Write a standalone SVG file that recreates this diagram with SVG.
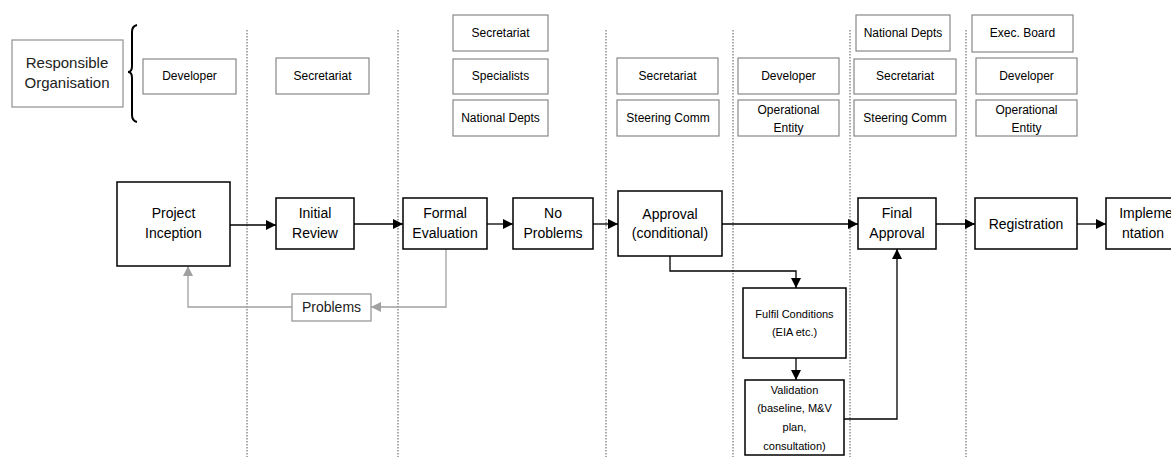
<svg xmlns="http://www.w3.org/2000/svg" width="1171" height="457" viewBox="0 0 1171 457">
<style>
text{font-family:"Liberation Sans",Arial,sans-serif;text-anchor:middle;fill:#000}
.sm{font-size:12px}
.md{font-size:14px}
.xs{font-size:11px}
.lg{font-size:15px;fill:#222}
.tb{fill:#fff;stroke:#888;stroke-width:1.2}
.gb{fill:#fff;stroke:#999;stroke-width:1.3}
.mb{fill:#fff;stroke:#000;stroke-width:1.5}
.dl{stroke:#555;stroke-width:1;stroke-dasharray:1.5 1.5;fill:none}
.cn{stroke:#000;stroke-width:1.3;fill:none}
.cg{stroke:#a0a0a0;stroke-width:1.3;fill:none}
</style>
<defs>
<marker id="ah" viewBox="0 0 10 10" refX="10" refY="5" markerWidth="10" markerHeight="10" markerUnits="userSpaceOnUse" orient="auto"><path d="M0,0L10,5L0,10z" fill="#000"/></marker>
<marker id="ag" viewBox="0 0 10 10" refX="10" refY="5" markerWidth="10" markerHeight="10" markerUnits="userSpaceOnUse" orient="auto"><path d="M0,0L10,5L0,10z" fill="#a0a0a0"/></marker>
</defs>
<rect width="1171" height="457" fill="#fff"/>
<g id="lanes">
<line class="dl" x1="247" y1="30" x2="247" y2="457"/>
<line class="dl" x1="398" y1="30" x2="398" y2="457"/>
<line class="dl" x1="606" y1="30" x2="606" y2="457"/>
<line class="dl" x1="733" y1="30" x2="733" y2="457"/>
<line class="dl" x1="850" y1="30" x2="850" y2="457"/>
<line class="dl" x1="966" y1="30" x2="966" y2="457"/>
</g>
<g id="responsible">
<rect class="gb" x="12" y="40" width="111" height="67"/>
<text class="lg" x="67" y="68">Responsible</text>
<text class="lg" x="67" y="88">Organisation</text>
</g>
<path id="brace" d="M137,25 Q132,26 132,32 L132,66 Q132,72 128,72 Q132,72 132,78 L132,115 Q132,121 137,122" fill="none" stroke="#000" stroke-width="2"/>
<g id="org-developer1"><rect class="tb" x="143" y="59" width="93" height="35"/><text class="sm" x="189.5" y="80">Developer</text></g>
<g id="org-secretariat1"><rect class="tb" x="276" y="58" width="93" height="36"/><text class="sm" x="322.5" y="80">Secretariat</text></g>
<g id="org-secretariat2"><rect class="tb" x="453" y="15" width="95" height="36"/><text class="sm" x="500.5" y="37">Secretariat</text></g>
<g id="org-specialists"><rect class="tb" x="453" y="59" width="95" height="35"/><text class="sm" x="500.5" y="80">Specialists</text></g>
<g id="org-natdepts1"><rect class="tb" x="453" y="100" width="95" height="36"/><text class="sm" x="500.5" y="122">National Depts</text></g>
<g id="org-secretariat3"><rect class="tb" x="617" y="58" width="101" height="36"/><text class="sm" x="667.5" y="80">Secretariat</text></g>
<g id="org-steering1"><rect class="tb" x="617" y="100" width="102" height="36"/><text class="sm" x="668" y="122">Steering Comm</text></g>
<g id="org-developer2"><rect class="tb" x="738" y="58" width="101" height="36"/><text class="sm" x="788.5" y="80">Developer</text></g>
<g id="org-operational1"><rect class="tb" x="738" y="100" width="101" height="36"/><text class="sm" x="788.5" y="114">Operational</text><text class="sm" x="788.5" y="132">Entity</text></g>
<g id="org-natdepts2"><rect class="tb" x="856" y="15" width="94" height="36"/><text class="sm" x="903" y="37">National Depts</text></g>
<g id="org-secretariat4"><rect class="tb" x="854" y="59" width="102" height="35"/><text class="sm" x="905" y="80">Secretariat</text></g>
<g id="org-steering2"><rect class="tb" x="854" y="100" width="102" height="36"/><text class="sm" x="905" y="122">Steering Comm</text></g>
<g id="org-execboard"><rect class="tb" x="972" y="15" width="101" height="37"/><text class="sm" x="1022.5" y="37">Exec. Board</text></g>
<g id="org-developer3"><rect class="tb" x="976" y="58" width="101" height="36"/><text class="sm" x="1026.5" y="80">Developer</text></g>
<g id="org-operational2"><rect class="tb" x="976" y="100" width="101" height="36"/><text class="sm" x="1026.5" y="114">Operational</text><text class="sm" x="1026.5" y="132">Entity</text></g>
<g id="connectors">
<line class="cn" x1="230" y1="225" x2="276" y2="225" marker-end="url(#ah)"/>
<line class="cn" x1="354" y1="224" x2="403" y2="224" marker-end="url(#ah)"/>
<line class="cn" x1="487" y1="224" x2="513" y2="224" marker-end="url(#ah)"/>
<line class="cn" x1="593" y1="224" x2="618" y2="224" marker-end="url(#ah)"/>
<line class="cn" x1="722" y1="224" x2="858" y2="224" marker-end="url(#ah)"/>
<line class="cn" x1="936" y1="224" x2="975" y2="224" marker-end="url(#ah)"/>
<line class="cn" x1="1077" y1="224" x2="1106" y2="224" marker-end="url(#ah)"/>
<polyline class="cn" points="670,256 670,271 796,271 796,288" marker-end="url(#ah)"/>
<line class="cn" x1="796" y1="358" x2="796" y2="380" marker-end="url(#ah)"/>
<polyline class="cn" points="844,419 897,419 897,249" marker-end="url(#ah)"/>
<polyline class="cg" points="446,249 446,307 371,307" marker-end="url(#ag)"/>
<polyline class="cg" points="292,307 188,307 188,266" marker-end="url(#ag)"/>
</g>
<g id="project-inception"><rect class="mb" x="117" y="182" width="113" height="84"/><text class="md" x="173.5" y="218">Project</text><text class="md" x="173.5" y="238">Inception</text></g>
<g id="initial-review"><rect class="mb" x="276" y="198" width="78" height="51"/><text class="md" x="315" y="218">Initial</text><text class="md" x="315" y="238">Review</text></g>
<g id="formal-evaluation"><rect class="mb" x="403" y="198" width="84" height="51"/><text class="md" x="445" y="218">Formal</text><text class="md" x="445" y="238">Evaluation</text></g>
<g id="no-problems"><rect class="mb" x="513" y="198" width="80" height="51"/><text class="md" x="553" y="218">No</text><text class="md" x="553" y="238">Problems</text></g>
<g id="approval"><rect class="mb" x="618" y="191" width="104" height="65"/><text class="md" x="670" y="219">Approval</text><text class="md" x="670" y="238">(conditional)</text></g>
<g id="final-approval"><rect class="mb" x="858" y="198" width="78" height="51"/><text class="md" x="897" y="218">Final</text><text class="md" x="897" y="238">Approval</text></g>
<g id="registration"><rect class="mb" x="975" y="198" width="102" height="51"/><text class="md" x="1026" y="229">Registration</text></g>
<g id="implementation"><rect class="mb" x="1106" y="198" width="80" height="51"/><text class="md" x="1146" y="218">Impleme</text><text class="md" x="1143" y="238">ntation</text></g>
<g id="problems"><rect class="gb" x="292" y="294" width="79" height="27"/><text class="md" x="331.5" y="312" style="fill:#222">Problems</text></g>
<g id="fulfil-conditions"><rect class="mb" x="743" y="288" width="103" height="70"/><text class="xs" x="794.5" y="318">Fulfil Conditions</text><text class="xs" x="794.5" y="336">(EIA etc.)</text></g>
<g id="validation"><rect class="mb" x="745" y="380" width="99" height="75"/><text class="xs" x="794.5" y="394">Validation</text><text class="xs" x="794.5" y="412">(baseline, M&amp;V</text><text class="xs" x="794.5" y="431">plan,</text><text class="xs" x="794.5" y="450">consultation)</text></g>
</svg>
